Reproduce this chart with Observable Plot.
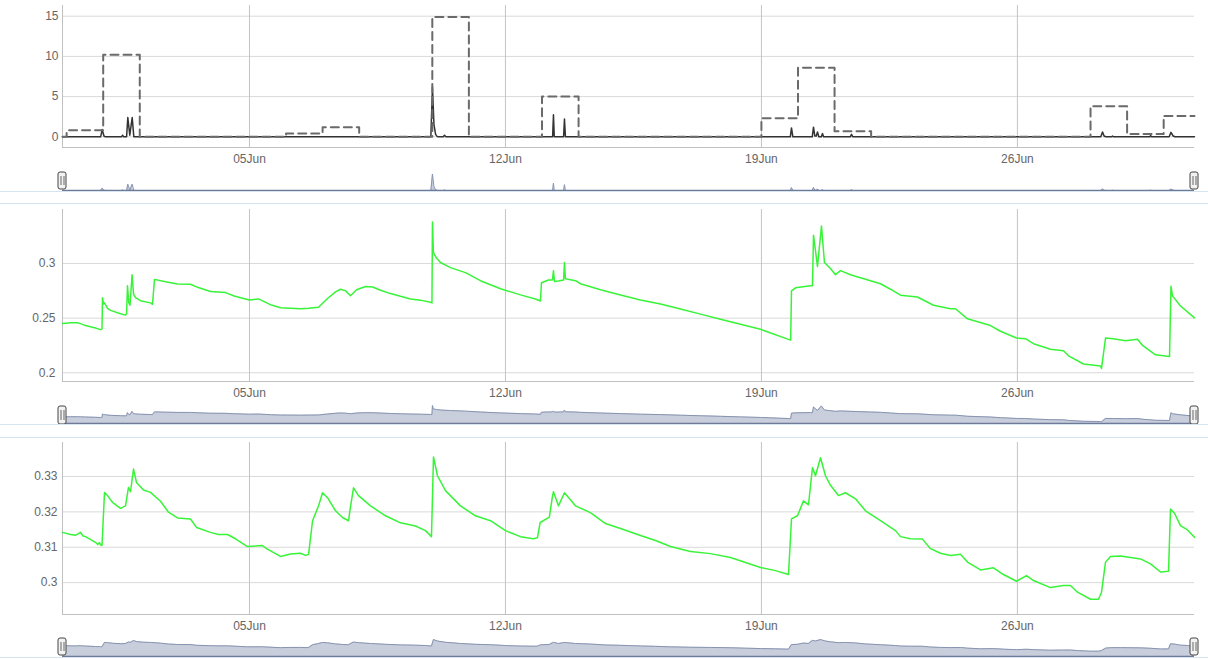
<!DOCTYPE html>
<html><head><meta charset="utf-8">
<script src="https://cdn.jsdelivr.net/npm/d3@7"></script>
<script src="https://cdn.jsdelivr.net/npm/@observablehq/plot@0.6"></script>
<style>
body{margin:0;background:#fff;}
#wrap{position:relative;width:1208px;height:659px;overflow:hidden;font-family:"Liberation Sans",Arial,sans-serif;}
.blk{position:absolute;left:0;}
.sep{position:absolute;left:0;width:1208px;height:1px;background:#d6e4ef;}
</style></head><body><div id="wrap"></div>
<script>
// ---- ticks / labels ----
const xTickDays = [5, 12, 19, 26];                 // day of June
const xTickLabels = ["05Jun", "12Jun", "19Jun", "26Jun"];
const rainTicks = [0, 5, 10, 15];
const moistATicks = [0.2, 0.25, 0.3];
const moistBTicks = [0.3, 0.31, 0.32, 0.33];
const rangeDays = [-0.113, 30.843];                // first / last sample (day of June)

// ---- daily rain total (dashed step) ----
const dailyDays = [-0.113, 0, 1, 2, 3, 4, 5, 6, 7, 8, 9, 10, 11, 12, 13, 14, 15, 16, 17, 18, 19, 20, 21, 22, 23, 24, 25, 26, 27, 28, 29, 30, 30.843];
const dailyRain = [0, 0.8, 10.2, 0, 0, 0, 0, 0.4, 1.2, 0, 0, 14.9, 0, 0, 5.0, 0, 0, 0, 0, 0, 2.3, 8.6, 0.7, 0, 0, 0, 0, 0, 0, 3.8, 0.35, 2.6, 2.6];

// ---- rain rate (solid) [day of June, value] ----
const rainRate = [[-0.113,0],[0.93,0],[0.973,0.9],[1.02,0.1],[1.06,0],[1.50,0],[1.53,0.2],[1.56,0],[1.640,0],[1.673,2.4],[1.727,0.2],[1.793,2.4],[1.837,0],
[9.96,0],[10.004,6.2],[10.045,1.5],[10.09,0.3],[10.13,0.05],[10.17,0],[10.30,0],[10.333,0.2],[10.37,0],
[13.29,0],[13.313,2.75],[13.335,0],[13.59,0],[13.614,2.2],[13.64,0],
[19.79,0],[19.822,1.1],[19.86,0],[20.39,0],[20.424,1.2],[20.46,0.1],[20.50,0.1],[20.533,0.6],[20.57,0],[20.64,0],[20.669,0.4],[20.70,0],
[21.43,0],[21.463,0.3],[21.50,0],[28.28,0],[28.328,0.6],[28.37,0.1],[28.42,0],[28.58,0],[28.601,0.1],[28.63,0],
[29.62,0],[29.64,0.15],[29.67,0],[30.15,0],[30.20,0.55],[30.26,0.1],[30.31,0],[30.843,0]];

// ---- soil moisture A [day of June, value] ----
const moistureA = [[-0.113,0.245],[0.106,0.2457],[0.297,0.2458],[0.379,0.2450],[0.516,0.2432],[0.789,0.2410],[0.926,0.2395],[0.967,0.2400],[0.981,0.2688],[1.008,0.2630],[1.036,0.2640],[1.118,0.2590],[1.200,0.2571],[1.473,0.2540],[1.610,0.2528],[1.640,0.2540],[1.664,0.2796],[1.700,0.2640],[1.733,0.2618],[1.790,0.2898],[1.830,0.2720],[1.883,0.2688],[2.020,0.2660],[2.293,0.2640],[2.348,0.2627],[2.403,0.2855],[2.704,0.2833],[3.032,0.2812],[3.387,0.2810],[3.600,0.2780],[3.934,0.2744],[4.344,0.2734],[4.600,0.2700],[5.000,0.2667],[5.247,0.2676],[5.600,0.2620],[5.849,0.2596],[6.395,0.2586],[6.616,0.2590],[6.889,0.2600],[7.134,0.2680],[7.353,0.2740],[7.490,0.2765],[7.630,0.2750],[7.763,0.2705],[7.930,0.2760],[8.173,0.2790],[8.370,0.2785],[8.583,0.2755],[8.856,0.2725],[9.130,0.2700],[9.403,0.2676],[9.677,0.2665],[9.950,0.2645],[9.990,0.2640],
[10.004,0.3380],[10.030,0.3100],[10.114,0.3050],[10.223,0.3010],[10.497,0.2963],[10.907,0.2917],[11.317,0.2843],[11.864,0.2769],[12.410,0.2713],[12.820,0.2676],[12.957,0.2657],[12.985,0.2824],[13.176,0.2850],[13.286,0.2850],[13.313,0.2935],[13.340,0.2835],[13.450,0.2840],[13.590,0.2850],[13.614,0.3010],[13.640,0.2860],[13.915,0.2843],[14.052,0.2815],[14.599,0.2760],[15.146,0.2713],[15.693,0.2667],[16.240,0.2630],[16.787,0.2583],[17.334,0.2537],[17.881,0.2490],[18.428,0.2444],[18.975,0.2398],[19.740,0.2306],[19.800,0.2300],[19.822,0.2750],[19.932,0.2778],[20.341,0.2796],[20.396,0.2796],[20.424,0.3260],[20.533,0.2972],[20.642,0.3343],[20.724,0.3009],[20.888,0.2954],[21.025,0.2898],[21.162,0.2935],[21.435,0.2898],[21.983,0.2843],[22.256,0.2815],[22.529,0.2765],
[22.803,0.2710],[23.268,0.2694],[23.705,0.2618],[24.170,0.2586],[24.307,0.2586],[24.635,0.2494],[25.264,0.2432],[25.537,0.2380],[25.975,0.2318],[26.221,0.2312],[26.440,0.2266],[26.905,0.2216],[27.261,0.2201],[27.398,0.2155],[27.808,0.2080],[28.273,0.2062],[28.300,0.2040],[28.410,0.2318],[28.628,0.2312],[28.957,0.2294],[29.285,0.2306],[29.422,0.2250],[29.777,0.2164],[30.160,0.2148],[30.200,0.2793],[30.241,0.2704],[30.460,0.2611],[30.843,0.2503]];

// ---- soil moisture B [day of June, value] ----
const moistureB = [[-0.113,0.3142],[0.106,0.3136],[0.250,0.3134],[0.379,0.3142],[0.450,0.3132],[0.516,0.3130],[0.789,0.3114],[0.850,0.3108],[0.900,0.3113],[0.926,0.3107],[0.967,0.3105],[1.036,0.3255],[1.118,0.3246],[1.254,0.3227],[1.473,0.3210],[1.610,0.3217],[1.692,0.3269],[1.747,0.3257],[1.829,0.3321],[1.911,0.3283],[2.102,0.3262],[2.293,0.3255],[2.567,0.3230],[2.786,0.3199],[3.032,0.3183],[3.387,0.3180],[3.551,0.3156],[3.934,0.3142],[4.153,0.3136],[4.399,0.3136],[4.618,0.3124],[4.946,0.3102],[5.356,0.3105],[5.466,0.3096],[5.849,0.3074],[6.122,0.3081],[6.395,0.3083],[6.534,0.3077],
[6.616,0.3080],[6.725,0.3175],[6.889,0.3217],[6.998,0.3254],[7.134,0.3240],[7.353,0.3203],[7.545,0.3184],[7.709,0.3175],[7.763,0.3215],[7.845,0.3268],[7.982,0.3246],[8.310,0.3217],[8.720,0.3189],[9.130,0.3169],[9.540,0.3160],[9.813,0.3147],[9.977,0.3130],
[10.032,0.3355],[10.141,0.3302],[10.360,0.3260],[10.770,0.3217],[11.180,0.3189],[11.590,0.3175],[12.000,0.3147],[12.410,0.3130],[12.766,0.3124],[12.875,0.3127],[12.950,0.3170],[13.200,0.3185],[13.280,0.3240],[13.313,0.3257],[13.450,0.3217],[13.614,0.3254],[13.915,0.3217],[14.325,0.3198],[14.736,0.3167],[15.146,0.3153],[15.693,0.3133],[16.103,0.3119],[16.513,0.3102],[17.060,0.3088],[17.607,0.3082],[18.154,0.3071],[18.565,0.3057],[18.975,0.3043],[19.385,0.3034],[19.740,0.3023],[19.822,0.3180],[19.986,0.3189],[20.150,0.3231],[20.287,0.3220],[20.396,0.3325],[20.478,0.3302],[20.615,0.3353],[20.752,0.3302],[20.888,0.3275],[21.107,0.3246],[21.298,0.3254],[21.572,0.3237],[21.846,0.3203],[22.256,0.3175],[22.666,0.3147],
[22.803,0.3130],[23.076,0.3124],[23.404,0.3123],[23.623,0.3096],[23.897,0.3083],[24.170,0.3077],[24.444,0.3080],[24.635,0.3058],[24.991,0.3036],[25.346,0.3042],[25.619,0.3023],[25.975,0.3004],[26.249,0.3020],[26.440,0.3006],[26.905,0.2986],[27.261,0.2992],[27.452,0.2992],[27.644,0.2973],[27.999,0.2953],[28.218,0.2953],[28.300,0.2973],[28.410,0.3058],[28.546,0.3074],[28.820,0.3075],[29.367,0.3067],[29.640,0.3053],[29.914,0.3030],[30.133,0.3032],[30.187,0.3208],[30.296,0.3196],[30.460,0.3161],[30.651,0.3149],[30.843,0.3128]];

// ---- helpers ----
const toDate = d => new Date(Date.UTC(2023, 4, 31) + d * 864e5);
const xDomain = rangeDays.map(toDate);
const tickDates = xTickDays.map(toDate);
const fmtX = d => xTickLabels[tickDates.findIndex(t => +t === +d)];
const FONT = '"Liberation Sans", Arial, Helvetica, sans-serif';
const GREEN = "#38f438";

function mainChart({height, mt, yDomain, yTicks, pad, marks}) {
  return Plot.plot({
    width: 1208, height, marginTop: mt, marginBottom: 18, marginLeft: 62, marginRight: 14,
    style: {fontFamily: FONT, fontSize: "12px", color: "#666", background: "transparent"},
    x: {type: "utc", domain: xDomain},
    y: {domain: yDomain},
    marks: [
      Plot.gridY(yTicks, {stroke: "#d9d9d9", strokeOpacity: 1}),
      Plot.gridX(tickDates, {stroke: "#c4c4c4", strokeOpacity: 1}),
      Plot.ruleX([xDomain[0]], {stroke: "#c0c0c0"}),
      Plot.ruleY([yDomain[0]], {stroke: "#c0c0c0"}),
      Plot.axisY(yTicks, {tickSize: 0, tickPadding: pad, tickFormat: d => String(d), fontSize: 12, label: null}),
      Plot.axisX(tickDates, {tickSize: 0, tickPadding: 7, tickFormat: fmtX, fontSize: 12, label: null}),
      ...marks
    ]
  });
}

function navChart({height, mt, data, yDomain, hTop, hBottom}) {
  const X = d => toDate(d[0]);
  const Y = d => d[1];
  return Plot.plot({
    width: 1208, height, marginTop: mt, marginBottom: 1, marginLeft: 62, marginRight: 14,
    style: {background: "transparent"},
    x: {type: "utc", domain: xDomain, axis: null},
    y: {domain: yDomain, axis: null},
    marks: [
      Plot.areaY(data, {x: X, y1: yDomain[0], y2: Y, fill: "#c8cedc", fillOpacity: 1, clip: true}),
      Plot.lineY(data, {x: X, y: Y, stroke: "#8894b0", strokeWidth: 1, clip: true}),
      Plot.ruleY([yDomain[0]], {stroke: "#6e7a97", strokeWidth: 1.5}),
      Plot.rect(rangeDays, {x1: toDate, x2: toDate, insetLeft: -4, insetRight: -4, insetTop: hTop, insetBottom: hBottom, rx: 2, fill: "#f2f2f2", stroke: "#444", strokeWidth: 1}),
      Plot.ruleX(rangeDays, {x: toDate, dx: -1.5, insetTop: hTop + 4, insetBottom: hBottom + 4, stroke: "#666"}),
      Plot.ruleX(rangeDays, {x: toDate, dx: 1.5, insetTop: hTop + 4, insetBottom: hBottom + 4, stroke: "#666"})
    ]
  });
}

const wrap = document.getElementById("wrap");
function place(node, top) {
  const div = document.createElement("div");
  div.className = "blk";
  div.style.top = top + "px";
  div.appendChild(node);
  wrap.appendChild(div);
}
function sep(top) {
  const div = document.createElement("div");
  div.className = "sep";
  div.style.top = top + "px";
  wrap.appendChild(div);
}

// Panel 1: rain
place(mainChart({
  height: 165, mt: 5, yDomain: [-1.33, 16.33], yTicks: rainTicks, pad: 4,
  marks: [
    Plot.lineY(rainRate, {x: d => toDate(d[0]), y: d => d[1], stroke: "#333", strokeWidth: 1.5}),
    Plot.line(dailyDays.map((d, i) => ({d, v: dailyRain[i]})), {x: r => toDate(r.d), y: "v", curve: "step-after", stroke: "#6a6a6a", strokeWidth: 2, strokeDasharray: "8,5"})
  ]
}), 0);
place(navChart({height: 26, mt: 8, data: rainRate, yDomain: [0, 6.4], hTop: -1, hBottom: 1}), 165);
sep(191);
sep(203);

// Panel 2: moisture A
place(mainChart({
  height: 195, mt: 5, yDomain: [0.192, 0.3495], yTicks: moistATicks, pad: 7,
  marks: [Plot.lineY(moistureA, {x: d => toDate(d[0]), y: d => d[1], stroke: GREEN, strokeWidth: 1.5})]
}), 204);
place(navChart({height: 25, mt: 6, data: moistureA, yDomain: [0.19, 0.338], hTop: 1, hBottom: -1}), 399);
sep(424);
sep(437);

// Panel 3: moisture B
place(mainChart({
  height: 194, mt: 4, yDomain: [0.291, 0.3396], yTicks: moistBTicks, pad: 5,
  marks: [Plot.lineY(moistureB, {x: d => toDate(d[0]), y: d => d[1], stroke: GREEN, strokeWidth: 1.5})]
}), 438);
place(navChart({height: 25, mt: 7, data: moistureB, yDomain: [0.277, 0.3355], hTop: -1, hBottom: 1}), 632);
sep(657);
</script>
</body></html>
